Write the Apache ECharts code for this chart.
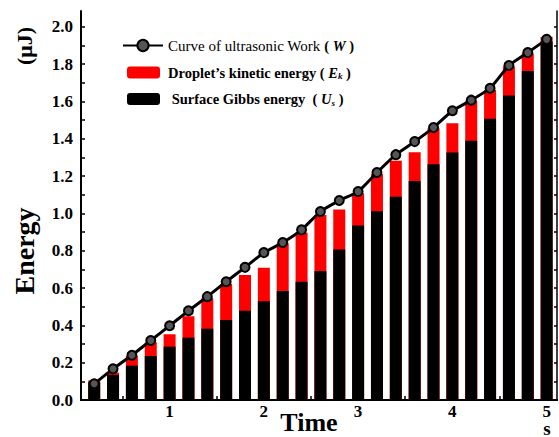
<!DOCTYPE html>
<html>
<head>
<meta charset="utf-8">
<script src="https://cdn.jsdelivr.net/npm/echarts@6/dist/echarts.min.js"></script>
<style>
  html, body { margin: 0; padding: 0; background: #fff; }
  #chart { width: 559px; height: 437px; }
</style>
</head>
<body>
<div id="chart"></div>
<script>
// time (s)
const times = [0.2, 0.4, 0.6, 0.8, 1.0, 1.2, 1.4, 1.6, 1.8, 2.0, 2.2, 2.4, 2.6, 2.8, 3.0, 3.2, 3.4, 3.6, 3.8, 4.0, 4.2, 4.4, 4.6, 4.8, 5.0];
// surface Gibbs energy Us (black)
const gibbs = [0.095, 0.135, 0.184, 0.236, 0.286, 0.334, 0.382, 0.429, 0.479, 0.529, 0.584, 0.634, 0.692, 0.806, 0.935, 1.012, 1.090, 1.174, 1.263, 1.326, 1.389, 1.508, 1.632, 1.764, 1.921];
// droplet kinetic energy Ek (red, on top of Us)
const kinetic = [0.010, 0.012, 0.052, 0.073, 0.066, 0.115, 0.163, 0.193, 0.191, 0.180, 0.256, 0.263, 0.300, 0.215, 0.173, 0.200, 0.193, 0.154, 0.194, 0.158, 0.213, 0.154, 0.155, 0.095, 0.024];
// ultrasonic work W (line)
const work = [0.087, 0.167, 0.240, 0.319, 0.398, 0.478, 0.554, 0.634, 0.711, 0.790, 0.844, 0.912, 1.010, 1.069, 1.117, 1.219, 1.315, 1.385, 1.460, 1.550, 1.607, 1.671, 1.793, 1.862, 1.933];

const xLabels = [1, 2, 3, 4, 5];
const xTicks = [0.5, 1, 1.5, 2, 2.5, 3, 3.5, 4, 4.5, 5];
const yLabels = [0, 0.2, 0.4, 0.6, 0.8, 1.0, 1.2, 1.4, 1.6, 1.8, 2.0];
const yTicks = [0, 0.1, 0.2, 0.3, 0.4, 0.5, 0.6, 0.7, 0.8, 0.9, 1.0, 1.1, 1.2, 1.3, 1.4, 1.5, 1.6, 1.7, 1.8, 1.9, 2.0];

const FONT = '"Liberation Serif", "Times New Roman", serif';

const legendText = {
  'W': '{r|Curve of ultrasonic Work }{b|( }{bi|W}{b| )}',
  'Ek': '{g|}{b|Droplet\u2019s kinetic energy ( }{bi|E}{sub|k}{b| )}',
  'Us': '{g|}{b| Surface Gibbs energy  ( }{bi|U}{sub|s}{b| )}'
};
const legendRich = {
  g: { width: 3 },
  r: { fontFamily: FONT, fontSize: 15, color: '#000' },
  b: { fontFamily: FONT, fontSize: 14.5, fontWeight: 'bold', color: '#000' },
  bi: { fontFamily: FONT, fontSize: 14.5, fontWeight: 'bold', fontStyle: 'italic', color: '#000' },
  sub: { fontFamily: FONT, fontSize: 9, fontWeight: 'bold', fontStyle: 'italic', color: '#000', padding: [7, 0, 0, 0] }
};

const chart = echarts.init(document.getElementById('chart'), null, { renderer: 'svg' });

const axisLine = { show: true, lineStyle: { color: '#000', width: 2 } };

chart.setOption({
  animation: false,
  grid: { left: 81, right: 2, top: 11, bottom: 37, outerBoundsMode: 'none' },
  legend: [
    {
      data: ['W'], left: 117, top: 33, itemWidth: 40, itemHeight: 14,
      formatter: n => legendText[n], textStyle: { rich: legendRich }
    },
    {
      data: ['Ek', 'Us'], orient: 'vertical', left: 122, top: 60,
      itemWidth: 33, itemHeight: 12, itemGap: 11,
      formatter: n => legendText[n], textStyle: { rich: legendRich }
    }
  ],
  xAxis: [
    {
      type: 'value', min: 0.06, max: 5.11, position: 'bottom',
      axisLine, splitLine: { show: false },
      axisTick: { show: true, inside: true, length: 4, customValues: xTicks, lineStyle: { color: '#000', width: 1.5 } },
      axisLabel: { customValues: xLabels, margin: 4, color: '#000', fontFamily: FONT, fontWeight: 'bold', fontSize: 17, lineHeight: 14 }
    },
    {
      type: 'value', min: 0.06, max: 5.11, position: 'top',
      axisLine, splitLine: { show: false }, axisTick: { show: false }, axisLabel: { show: false }
    }
  ],
  yAxis: [
    {
      type: 'value', min: 0, max: 2.085, position: 'left',
      axisLine, splitLine: { show: false },
      axisTick: { show: true, inside: true, length: 4, customValues: yTicks, lineStyle: { color: '#000', width: 1.5 } },
      axisLabel: {
        customValues: yLabels, margin: 8, color: '#000', fontFamily: FONT, fontWeight: 'bold', fontSize: 17,
        formatter: v => v.toFixed(1)
      }
    },
    {
      type: 'value', min: 0, max: 2.085, position: 'right',
      axisLine: { show: true, lineStyle: { color: '#000', width: 1.5 } }, splitLine: { show: false },
      axisTick: { show: true, inside: true, length: 3, customValues: yTicks, lineStyle: { color: '#000', width: 1.5 } },
      axisLabel: { show: false }
    }
  ],
  series: [
    {
      // red bar reaches Us + Ek; the black Us bar is drawn over its lower part
      name: 'Ek', type: 'bar', barWidth: 12, barGap: '-100%',
      itemStyle: { color: '#ff0000' },
      data: times.map((t, i) => [t, gibbs[i] + kinetic[i]])
    },
    {
      name: 'Us', type: 'bar', barWidth: 12, barGap: '-100%',
      itemStyle: { color: '#000' },
      data: times.map((t, i) => [t, gibbs[i]])
    },
    {
      name: 'W', type: 'line', z: 5, smooth: 0.15,
      symbol: 'circle', symbolSize: 9,
      lineStyle: { color: '#000', width: 3 },
      itemStyle: { color: '#555', borderColor: '#000', borderWidth: 2 },
      data: times.map((t, i) => [t, work[i]])
    }
  ],
  graphic: [
    { type: 'text', x: 24, y: 46, rotation: Math.PI / 2,
      style: { text: '(\u03bcJ)', fill: '#000', font: 'bold 22px ' + FONT, textAlign: 'center', textVerticalAlign: 'middle' } },
    { type: 'text', x: 24, y: 251, rotation: Math.PI / 2,
      style: { text: 'Energy', fill: '#000', font: 'bold 28px ' + FONT, textAlign: 'center', textVerticalAlign: 'middle' } },
    { type: 'text', x: 309, y: 422,
      style: { text: 'Time', fill: '#000', font: 'bold 26px ' + FONT, textAlign: 'center', textVerticalAlign: 'middle' } },
    { type: 'text', x: 547, y: 428,
      style: { text: 's', fill: '#000', font: 'bold 19px ' + FONT, textAlign: 'center', textVerticalAlign: 'middle' } }
  ]
});
</script>
</body>
</html>
